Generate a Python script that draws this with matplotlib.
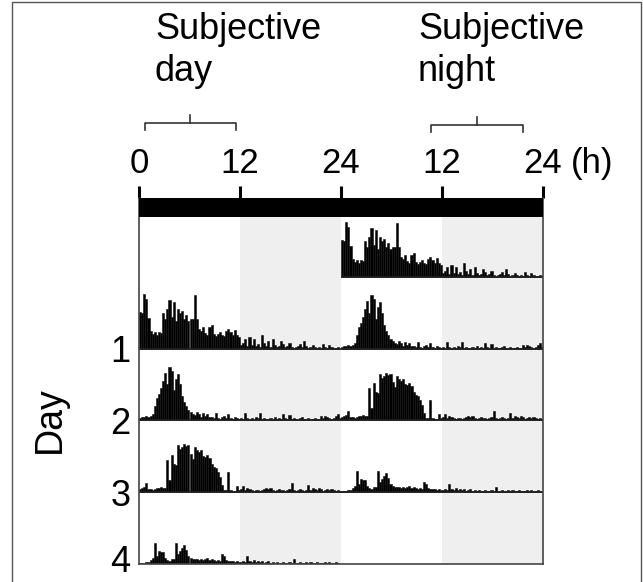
import matplotlib
matplotlib.use('Agg')
import matplotlib.pyplot as plt
from matplotlib.patches import Rectangle
import numpy as np

plt.rcParams['font.family'] = ['Liberation Sans', 'DejaVu Sans']

# activity counts per 15-min bin, 96 bins per day (0-24 h)
day1 = [37, 36, 55, 50, 31, 18, 15, 17, 14, 17, 16, 36,
        30, 40, 49, 32, 47, 28, 40, 36, 38, 30, 34, 28,
        30, 30, 54, 30, 20, 18, 22, 16, 14, 22, 24, 15,
        13, 15, 17, 14, 13, 18, 20, 17, 14, 19, 14, 12,
        4, 6, 10, 3, 12, 4, 10, 3, 5, 2, 14, 6,
        3, 8, 2, 10, 4, 2, 3, 8, 5, 2, 3, 6,
        2, 1, 2, 3, 5, 2, 8, 3, 1, 2, 4, 2,
        1, 2, 1, 5, 2, 1, 4, 2, 1, 1, 2, 0]
day2 = [2, 3, 3, 4, 3, 4, 6, 14, 22, 26, 32, 40,
        48, 36, 54, 50, 30, 42, 47, 36, 24, 18, 14, 10,
        8, 6, 5, 8, 6, 3, 7, 4, 6, 3, 3, 2,
        7, 2, 1, 3, 4, 2, 6, 2, 1, 3, 2, 1,
        2, 1, 7, 2, 1, 2, 1, 3, 2, 7, 1, 2,
        1, 1, 2, 1, 3, 1, 2, 1, 6, 2, 1, 5,
        1, 2, 1, 1, 2, 3, 1, 1, 2, 1, 1, 2,
        1, 1, 4, 2, 4, 3, 2, 1, 2, 4, 6, 2]
day3 = [3, 4, 5, 9, 3, 3, 2, 3, 4, 4, 5, 4,
        4, 32, 12, 37, 28, 27, 47, 43, 45, 48, 46, 47,
        38, 33, 45, 42, 40, 42, 36, 35, 37, 34, 28, 25,
        24, 20, 15, 7, 2, 2, 20, 2, 1, 1, 6, 2,
        3, 6, 2, 4, 3, 2, 1, 2, 2, 1, 2, 3,
        4, 3, 4, 2, 1, 2, 3, 2, 2, 1, 2, 3,
        9, 2, 1, 2, 3, 2, 1, 2, 7, 2, 4, 3,
        2, 4, 3, 1, 2, 3, 2, 3, 2, 1, 2, 1]
day4 = [1, 1, 1, 2, 2, 4, 6, 21, 8, 13, 12, 12,
        6, 4, 3, 5, 5, 21, 10, 13, 16, 19, 14, 8,
        6, 5, 5, 5, 4, 5, 4, 5, 6, 4, 5, 4,
        3, 4, 3, 10, 8, 4, 3, 3, 3, 2, 3, 2,
        2, 3, 2, 8, 3, 2, 4, 2, 3, 2, 3, 1,
        2, 3, 1, 2, 1, 2, 1, 1, 2, 1, 1, 2,
        1, 5, 1, 1, 2, 1, 1, 2, 1, 2, 1, 1,
        2, 1, 1, 1, 2, 1, 2, 1, 1, 2, 1, 0]
days = [day1, day2, day3, day4]
day_labels = ['1', '2', '3', '4']
hour_ticks = [0, 12, 24, 36, 48]
hour_labels = ['0', '12', '24', '12', '24']
night_spans = [(12, 24), (36, 48)]

bin_h = 0.25
row_gap = 72          # counts per row of the actogram
first_row = 60
bar_h = 19
n_rows = len(days) + 1
top = (n_rows - 1) * row_gap + first_row

fig = plt.figure(figsize=(6.43, 5.82), dpi=100)
ax = fig.add_axes([139 / 643, 18 / 582, 404 / 643, 366 / 582])

for a, b in night_spans:
    ax.fill_between([a, b], 0, top, color='#efefef', lw=0, zorder=0)
ax.fill_between([0, 48], top, top + bar_h, color='black', lw=0, zorder=3)

# double plot: row r shows day r on the left and day r+1 on the right
for r in range(n_rows):
    base = (n_rows - 1 - r) * row_gap
    for half, d in enumerate([r - 1, r]):
        if d < 0 or d >= len(days):
            continue
        vals = np.array(days[d])
        x = half * 24 + np.arange(len(vals)) * bin_h
        ax.bar(x, vals, width=bin_h, bottom=base, align='edge',
               color='black', edgecolor='#111', linewidth=0.4, zorder=2)
    if r == 0:
        ax.hlines(base, 24, 48, color='#222', lw=1.2, zorder=2)
    elif r < n_rows - 1:
        ax.hlines(base, 0, 48, color='#222', lw=1.2, zorder=2)
    if r > 0:
        # day number next to the row baseline; the last one kept inside
        last = r == n_rows - 1
        ax.annotate(day_labels[r - 1], xy=(0, base),
                    xytext=(-6, -11.5 if last else 0),
                    textcoords='offset points', ha='right',
                    va='bottom' if last else 'center_baseline',
                    fontsize=26, annotation_clip=False)

ax.set_xlim(0, 48)
ax.set_ylim(0, top + bar_h)
ax.xaxis.tick_top()
ax.set_xticks(hour_ticks)
ax.set_xticklabels(hour_labels)
ax.tick_params(axis='x', direction='out', length=9, width=2.2, pad=4,
               labelsize=25, color='black')
ax.set_yticks([])
ax.spines['top'].set_visible(False)
for s in ['left', 'right', 'bottom']:
    ax.spines[s].set_color('#444')
    ax.spines[s].set_linewidth(1.2)

ax.annotate('(h)', xy=(48, 1), xycoords=('data', 'axes fraction'),
            xytext=(20, 13), textcoords='offset points',
            ha='left', va='bottom', fontsize=25)

fig.text(50 / 643, 1 - 420 / 582, 'Day', rotation=90, ha='center',
         va='center', fontsize=27)
fig.text(155 / 643, 1 - 12 / 582, 'Subjective\nday', ha='left', va='top',
         fontsize=26, linespacing=1.25)
fig.text(418 / 643, 1 - 12 / 582, 'Subjective\nnight', ha='left', va='top',
         fontsize=26, linespacing=1.25)

# brackets over subjective day and night
y0 = top + bar_h
for x1, x2, y, drop, rise in [(0.7, 11.5, y0 + 75, 7, 8),
                              (34.7, 45.6, y0 + 73, 7, 8)]:
    xm = (x1 + x2) / 2
    ax.plot([x1, x1, x2, x2], [y - drop, y, y, y - drop], color='#333',
            lw=1.2, clip_on=False)
    ax.plot([xm, xm], [y, y + rise], color='#333', lw=1.2, clip_on=False)

fig.patches.append(Rectangle((12 / 643, -0.1), 629 / 643, 1.1 - 2 / 582,
                             transform=fig.transFigure, fill=False,
                             edgecolor='#555', lw=1))

fig.savefig('out.png', dpi=100)
